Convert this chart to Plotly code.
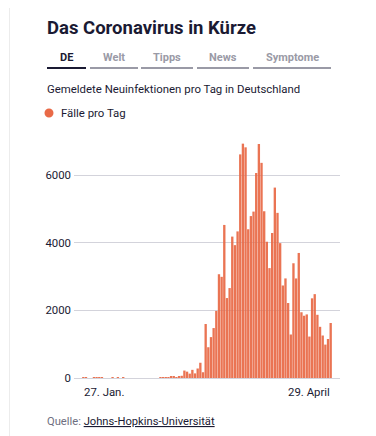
import pandas as pd
import plotly.graph_objects as go

# ---- data (daily new infections, Germany) ----
jan_vals = [1, 3, 0, 0, 1]
feb_vals = [3, 2, 2, 0, 0, 0, 1, 0, 1, 0, 2,
            0, 0, 0, 0, 0, 0, 0, 0, 0, 0, 0, 0, 0,
            1, 10, 19, 2, 31]
mar_vals = [51, 29, 37, 66, 220, 188, 129, 241, 136, 281,
            451, 170, 1597, 910, 1210, 1477, 1985, 3070, 2993, 4528,
            2365, 2660, 4183, 3930, 4337, 6615, 6933, 6824, 4400, 4790, 4923]
apr_vals = [6064, 6922, 6365, 4933, 4031, 3251, 4289, 5633, 4885, 3990,
            2737, 2946, 2218, 1287, 3394, 2945, 3699, 1945, 1842, 1881,
            1226, 2357, 2481, 1870, 1514, 1257, 988, 1154, 1627]
values = jan_vals + feb_vals + mar_vals + apr_vals
dates = pd.date_range("2020-01-27", "2020-04-29", freq="D")

y_ticks = [0, 2000, 4000, 6000]
x_labels = ["27. Jan.", "29. April"]
title = "Das Coronavirus in Kürze"
tabs = ["DE", "Welt", "Tipps", "News", "Symptome"]
subtitle = "Gemeldete Neuinfektionen pro Tag in Deutschland"
legend_name = "Fälle pro Tag"

# page body has an 8px margin; figure is sized to fill the rest of the window
OFF = 8
W, H = 376 - OFF, 436 - OFF
L, R, T, B = 74 - OFF, 36, 138 - OFF, 58
PW, PH = W - L - R, H - T - B

def xp(px):  # px in window coordinates
    return (px - OFF - L) / PW

def yp(py):
    return (H - B - (py - OFF)) / PH

BAR = "rgb(233,106,71)"
DARK = "#1a1a33"
GRAY = "#9a9aa6"
FONT = "Roboto, Arial, sans-serif"

fig = go.Figure(go.Bar(
    x=dates, y=values, marker=dict(color=BAR, line=dict(width=0)),
    opacity=0.93, name=legend_name, showlegend=False,
))

shapes = []
annotations = []

# page decoration
shapes.append(dict(type="rect", xref="paper", yref="paper", x0=xp(369), x1=xp(380),
                   y0=yp(440), y1=yp(0), fillcolor="#f3f3f3", line=dict(width=0), layer="below"))
shapes.append(dict(type="line", xref="paper", yref="paper", x0=xp(9.5), x1=xp(9.5),
                   y0=yp(440), y1=yp(0), line=dict(color="#ececec", width=1)))

# title
annotations.append(dict(text="<b>" + title + "</b>", x=xp(45), y=yp(28), xref="paper", yref="paper",
                        xanchor="left", yanchor="middle", showarrow=False,
                        font=dict(family=FONT, size=18.5, color=DARK)))

# tabs
tab_spans = [(47, 86), (90, 138), (141, 193), (197, 249), (253, 331)]
for i, (name, (a, b)) in enumerate(zip(tabs, tab_spans)):
    col = DARK if i == 0 else GRAY
    annotations.append(dict(text="<b>" + name + "</b>", x=xp((a + b) / 2), y=yp(57),
                            xref="paper", yref="paper", xanchor="center", yanchor="middle",
                            showarrow=False, font=dict(family=FONT, size=11, color=col)))
    shapes.append(dict(type="line", xref="paper", yref="paper", x0=xp(a), x1=xp(b),
                       y0=yp(68), y1=yp(68), line=dict(color=col, width=2)))

# subtitle
annotations.append(dict(text=subtitle, x=xp(45), y=yp(89), xref="paper", yref="paper",
                        xanchor="left", yanchor="middle", showarrow=False,
                        font=dict(family=FONT, size=11.4, color=DARK)))

# legend
shapes.append(dict(type="circle", xref="paper", yref="paper", x0=xp(44.5), x1=xp(53.5),
                   y0=yp(108.5), y1=yp(117.5), fillcolor=BAR, line=dict(width=0)))
annotations.append(dict(text=legend_name, x=xp(59), y=yp(113), xref="paper", yref="paper",
                        xanchor="left", yanchor="middle", showarrow=False,
                        font=dict(family=FONT, size=11.4, color=DARK)))

# x labels
annotations.append(dict(text=x_labels[0], x=dates[0] - pd.Timedelta(hours=12), y=yp(392),
                        xref="x", yref="paper", xanchor="left", yanchor="middle",
                        showarrow=False, font=dict(family=FONT, size=11.4, color=DARK)))
annotations.append(dict(text=x_labels[1], x=dates[-1] + pd.Timedelta(hours=12), y=yp(392),
                        xref="x", yref="paper", xanchor="right", yanchor="middle",
                        showarrow=False, font=dict(family=FONT, size=11.4, color=DARK)))

# source
annotations.append(dict(text="<span style='color:#6e6e80'>Quelle: </span><u>Johns-Hopkins-Universität</u>",
                        x=xp(45), y=yp(421), xref="paper", yref="paper",
                        xanchor="left", yanchor="middle", showarrow=False,
                        font=dict(family=FONT, size=11.2, color=DARK)))

fig.update_layout(
    width=W, height=H,
    margin=dict(l=L, r=R, t=T, b=B, pad=0),
    paper_bgcolor="white", plot_bgcolor="white",
    bargap=0.12,
    shapes=shapes, annotations=annotations,
    showlegend=False,
    xaxis=dict(type="date",
               range=[dates[0] - pd.Timedelta(hours=84), dates[-1] + pd.Timedelta(hours=84)],
               showticklabels=False, showgrid=False, zeroline=False, showline=False, fixedrange=True),
    yaxis=dict(range=[0, 7100], tickvals=y_ticks, ticktext=[str(v) for v in y_ticks],
               showgrid=True, gridcolor="#d3d3db", gridwidth=1,
               zeroline=True, zerolinecolor="#d3d3db", zerolinewidth=1,
               showline=False, ticks="", ticklabelstandoff=2,
               tickfont=dict(family=FONT, size=11.4, color=DARK), fixedrange=True),
)

fig.write_html("out.html", config={"displayModeBar": False})
